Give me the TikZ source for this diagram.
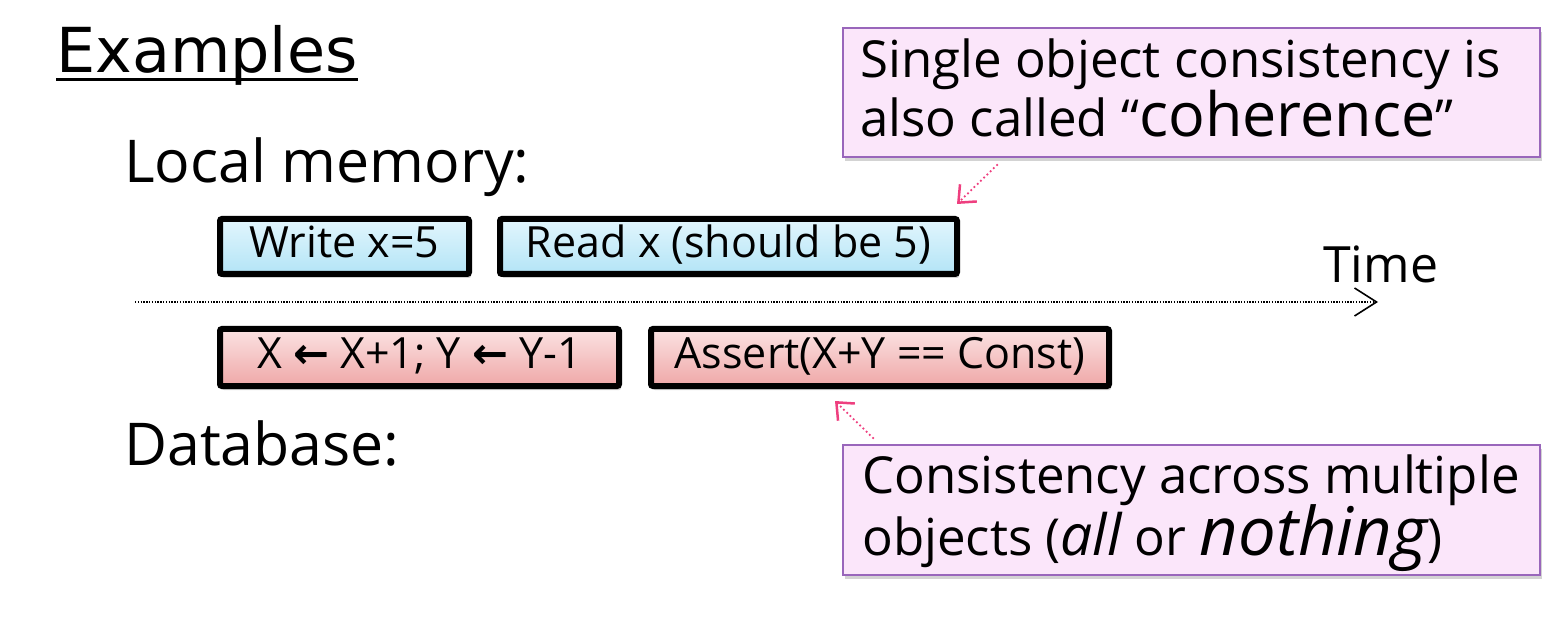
\documentclass[tikz,border=0pt]{standalone}
\usepackage{fontspec}
\setmainfont{Open Sans}
\newfontfamily\headfont{DejaVu Sans}
\newfontfamily\arrfont{DejaVu Sans}
\usetikzlibrary{arrows.meta,shadows}
\definecolor{bluetop}{HTML}{E2F6FD}
\definecolor{bluebot}{HTML}{B3E4F6}
\definecolor{redtop}{HTML}{FBE2E2}
\definecolor{redbot}{HTML}{EFA8A8}
\definecolor{callfill}{HTML}{FBE6FA}
\definecolor{calldraw}{HTML}{9966BB}
\definecolor{arrpink}{HTML}{EE3F7F}
\begin{document}
\begin{tikzpicture}[x=1pt,y=-1pt,
  shd/.style={drop shadow={opacity=0.35,shadow xshift=2pt,shadow yshift=-4pt}},
  opbox/.style={draw=black,line width=6pt,rounded corners=2pt,inner sep=0pt,shd,
    text height=31pt,text depth=9pt,font=\fontsize{43}{45}\selectfont},
  bluebox/.style={opbox,top color=bluetop,bottom color=bluebot},
  redbox/.style={opbox,top color=redtop,bottom color=redbot},
  callout/.style={draw=calldraw,line width=2pt,fill=callfill,shd,inner sep=0pt},
  calltext/.style={anchor=base west,inner sep=0pt,font=\fontsize{51}{59}\selectfont},
  label/.style={anchor=base west,inner sep=0pt,font=\fontsize{59}{60}\selectfont},
  pinkarr/.style={draw=arrpink,line width=2.5pt,line cap=round,dash pattern=on 0pt off 4.5pt,
    -{Straight Barb[length=14pt,width=24pt,line width=2.5pt]}},
  timearr/.style={draw=black,line width=1.6pt,dash pattern=on 1.4pt off 1.4pt,
    -{Straight Barb[length=22pt,width=28pt,line width=1.6pt]}}
]
\useasboundingbox (0,0) rectangle (1564,620);

% headings
\node[anchor=base west,inner sep=0pt,font=\headfont\fontsize{62}{64}\selectfont] (ex) at (56,73) {Examples};
\draw[line width=3pt] ([yshift=-7pt]ex.base west) -- ([yshift=-7pt]ex.base east);
\node[label] (lm) at (124,183) {Local memory:};
\node[label] (db) at (124,465) {Database:};

% operation boxes
\node[bluebox,minimum width=249pt,minimum height=55pt] (w) at (344.5,246.5) {Write x=5};
\node[bluebox,minimum width=457pt,minimum height=55pt] (r) at (728.5,246.5) {Read x (should be 5)};
\node[redbox,minimum width=399pt,minimum height=57pt] (u) at (419.5,357.5)
  {X {\arrfont\bfseries ←} X+1; Y {\arrfont\bfseries ←} Y-1};
\node[redbox,minimum width=458pt,minimum height=57pt] (a) at (880,357.5) {Assert(X+Y == Const)};

% time axis
\coordinate (t0) at (135,302);
\coordinate (t1) at (1378,302);
\draw[timearr] (t0) -- (t1);
\node[anchor=base west,inner sep=0pt,font=\fontsize{50}{52}\selectfont] (time) at (1323,283) {Time};

% callouts
\node[callout,minimum width=697pt,minimum height=129pt] (c1) at (1191.5,92.5) {};
\node[calltext] (c1a) at (860,78) {Single object consistency is};
\node[calltext] (c1b) at (860,137) {also called “{\fontsize{61}{61}\selectfont coherence}”};
\node[callout,minimum width=697pt,minimum height=130pt] (c2) at (1191.5,510) {};
\node[calltext] (c2a) at (862,493) {Consistency across multiple};
\node[calltext] (c2b) at (862,555) {objects ({\itshape\fontsize{57}{57}\selectfont all} or {\itshape\fontsize{67}{67}\selectfont nothing})};

% pink arrows
\coordinate (p1s) at (997,165);
\coordinate (p1e) at (957,204);
\draw[pinkarr] (p1s) -- (p1e);
\coordinate (p2s) at (873,438);
\coordinate (p2e) at (835,401);
\draw[pinkarr] (p2s) -- (p2e);
\end{tikzpicture}
\end{document}
